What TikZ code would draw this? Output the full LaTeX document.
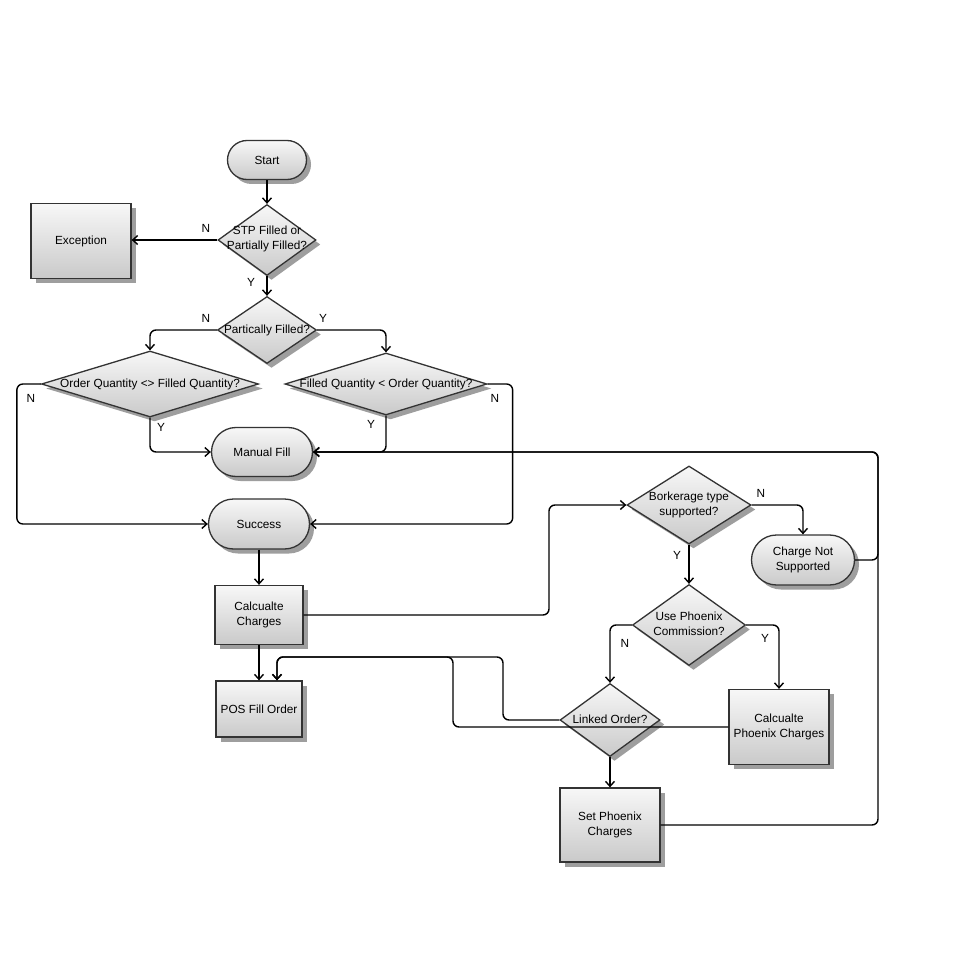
\documentclass[tikz,border=0pt]{standalone}
\usepackage{fontspec}
\setmainfont{Liberation Sans}
\usetikzlibrary{shapes.geometric,shapes.misc,shadows,arrows.meta}
\begin{document}
\begin{tikzpicture}[x=1pt,y=-1pt,
  base/.style={draw=black!80, line width=1.3pt, top color=gray!6, bottom color=gray!42,
    drop shadow={shadow xshift=4.5pt,shadow yshift=-4.5pt,fill=black!38,opacity=1},
    inner sep=0pt, align=center, font=\fontsize{11.8}{15}\selectfont},
  pill/.style={base, rounded rectangle},
  boxnode/.style={base, rectangle},
  dia/.style={base, diamond},
  dtext/.style={align=center, inner sep=0pt, font=\fontsize{11.8}{15}\selectfont},
  yn/.style={inner sep=0pt, font=\fontsize{11.8}{14}\selectfont},
  edge/.style={draw=black, line width=1.4pt, rounded corners=6pt,
    -{Straight Barb[length=5pt,width=9pt,line width=1.4pt]}}
]
\useasboundingbox (0,0) rectangle (978,963);
\fill[white] (0,0) rectangle (978,963);

% nodes
\node[pill, minimum width=79pt, minimum height=39pt] (start) at (267,160) {Start};
\node[dia, minimum width=98pt, minimum height=71pt] (stp) at (267,240) {};
\node[dtext] (stpt) at (267,239) {STP Filled or\\Partially Filled?};
\node[boxnode, minimum width=100pt, minimum height=75pt] (exc) at (81,241) {Exception};
\node[dia, minimum width=99pt, minimum height=67pt] (part) at (267,330) {};
\node[dtext] (partt) at (267,330) {Partically Filled?};
\node[dia, minimum width=217pt, minimum height=66pt] (oq) at (150,384) {};
\node[dtext] (oqt) at (150,384) {Order Quantity <> Filled Quantity?};
\node[dia, minimum width=202pt, minimum height=62pt] (fq) at (386,384) {};
\node[dtext] (fqt) at (386,384) {Filled Quantity < Order Quantity?};
\node[pill, minimum width=101pt, minimum height=49pt] (manual) at (262,452) {Manual Fill};
\node[pill, minimum width=101pt, minimum height=50pt] (success) at (259,524) {Success};
\node[boxnode, minimum width=88pt, minimum height=59pt] (calc) at (259,615) {Calcualte\\Charges};
\node[boxnode, minimum width=86pt, minimum height=56pt] (pos) at (259,709) {POS Fill Order};
\node[dia, minimum width=124pt, minimum height=78pt] (brok) at (689,505) {};
\node[dtext] (brokt) at (689,505) {Borkerage type\\supported?};
\node[pill, minimum width=103pt, minimum height=50pt] (cns) at (803,560) {Charge Not\\Supported};
\node[dia, minimum width=113pt, minimum height=81pt] (use) at (689,625) {};
\node[dtext] (uset) at (689,624) {Use Phoenix\\Commission?};
\node[dia, minimum width=100pt, minimum height=73pt] (linked) at (610,720) {};
\node[dtext] (linkedt) at (610,719) {Linked Order?};
\node[boxnode, minimum width=100pt, minimum height=75pt] (cpc) at (779,727) {Calcualte\\Phoenix Charges};
\node[boxnode, minimum width=100pt, minimum height=74pt] (set) at (610,825) {Set Phoenix\\Charges};

% connectors
\draw[edge] (start.south) -- (stp.north);
\draw[edge] (stp.west) -- (exc.east |- stp.west);
\draw[edge] (stp.south) -- (part.north);
\draw[edge] (part.west) -| (oq.north);
\draw[edge] (part.east) -| (fq.north);
\draw[edge] (oq.west) -- ++(-24,0) |- (success.west);
\draw[edge] (oq.south) |- (manual.west);
\draw[edge] (fq.east) -- ++(25,0) |- (success.east);
\draw[edge] (fq.south) |- (manual.east);
\draw[edge] (success.south) -- (calc.north);
\draw[edge] (calc.south) -- (pos.north);
\draw[edge] (calc.east) -| (549,505) -- (brok.west);
\draw[edge] (brok.east) -| (cns.north);
\draw[edge] (brok.south) -- (use.north);
\draw[edge] (use.west) -| (linked.north);
\draw[edge] (use.east) -| (cpc.north);
\draw[edge] (linked.south) -- (set.north);
\draw[edge] (linked.west) -| (503,657) -| ([xshift=18pt]pos.north);
\draw[edge] (cpc.west) -| (453,657) -| ([xshift=18pt]pos.north);
\draw[edge] (set.east) -| (878,452) -- (manual.east);
\draw[edge] (cns.east) -| (878,452) -- (manual.east);

% labels
\node[yn] (l1) at (206,228) {N};
\node[yn] (l2) at (251,282) {Y};
\node[yn] (l3) at (206,318) {N};
\node[yn] (l4) at (323,318) {Y};
\node[yn] (l5) at (31,398) {N};
\node[yn] (l6) at (161,427) {Y};
\node[yn] (l7) at (495,398) {N};
\node[yn] (l8) at (371,424) {Y};
\node[yn] (l9) at (761,493) {N};
\node[yn] (l10) at (677,555) {Y};
\node[yn] (l11) at (625,643) {N};
\node[yn] (l12) at (765,638) {Y};
\end{tikzpicture}
\end{document}
